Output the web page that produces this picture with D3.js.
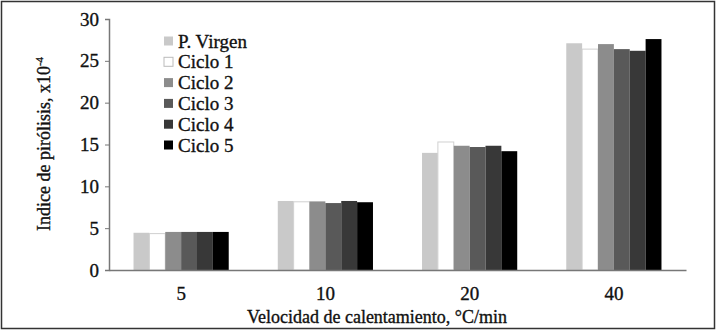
<!DOCTYPE html>
<html lang="es">
<head>
<meta charset="utf-8">
<script src="https://d3js.org/d3.v7.min.js"></script>
<style>
    body { margin: 0; background: #fff; }
    svg text {
        font-family: "Liberation Serif", "Times New Roman", Tinos, "DejaVu Serif", serif !important;
        stroke: #111;
        stroke-width: 0.35px;
    }
</style>
</head>
<body>
<div id="chart"></div>
<script>

    // categories (heating rate, °C/min)
    const categories = ["5", "10", "20", "40"];

    // series names and values (pyrolysis index x10^-4)
    const seriesNames = ["P. Virgen", "Ciclo 1", "Ciclo 2", "Ciclo 3", "Ciclo 4", "Ciclo 5"];
    const pVirgen = [4.45, 8.25, 14.0, 27.1];
    const ciclo1  = [4.35, 8.15, 15.3, 26.4];
    const ciclo2  = [4.55, 8.2, 14.85, 27.0];
    const ciclo3  = [4.55, 8.0, 14.7, 26.4];
    const ciclo4  = [4.55, 8.25, 14.85, 26.2];
    const ciclo5  = [4.55, 8.1, 14.2, 27.6];

    const yTicks = [0, 5, 10, 15, 20, 25, 30];

    const colours = ["#c9c9c9", "#ffffff", "#8c8c8c", "#595959", "#383838", "#000000"];

    const allSeries = [pVirgen, ciclo1, ciclo2, ciclo3, ciclo4, ciclo5];

    const width = 717, height = 333;
    const margin = {top: 19, right: 31, bottom: 63, left: 109};
    const w = width - margin.left - margin.right;
    const h = height - margin.top - margin.bottom;

    const svg = d3.select("#chart").append("svg")
        .attr("width", width)
        .attr("height", height);

    // outer frame
    svg.append("rect")
        .attr("x", 1.5).attr("y", 1.5)
        .attr("width", width - 4).attr("height", height - 6)
        .attr("fill", "none")
        .attr("stroke", "#333")
        .attr("stroke-width", 1.5);

    const g = svg.append("g")
        .attr("transform", "translate(" + margin.left + "," + margin.top + ")");

    const x0 = d3.scaleBand()
        .domain(categories)
        .range([0, w])
        .paddingInner(0.34)
        .paddingOuter(0.17);

    const x1 = d3.scaleBand()
        .domain(seriesNames)
        .range([0, x0.bandwidth()])
        .padding(0);

    const y = d3.scaleLinear()
        .domain([0, 30])
        .range([h, 0]);

    // bars
    const groups = g.selectAll(".grp")
        .data(categories)
        .enter().append("g")
        .attr("class", "grp")
        .attr("transform", function(d) { return "translate(" + x0(d) + ",0)"; });

    groups.selectAll("rect")
        .data(function(d, i) {
            return seriesNames.map(function(s, j) {
                return {name: s, value: allSeries[j][i], k: j};
            });
        })
        .enter().append("rect")
        .attr("x", function(d) { return x1(d.name); })
        .attr("y", function(d) { return y(d.value); })
        .attr("width", x1.bandwidth())
        .attr("height", function(d) { return h - y(d.value); })
        .attr("fill", function(d) { return colours[d.k]; })
        .attr("stroke", function(d) { return d.k == 1 ? "#d0d0d0" : "none"; })
        .attr("stroke-width", 1);

    // y axis
    const yAxis = g.append("g")
        .call(d3.axisLeft(y).tickValues(yTicks).tickSize(4).tickPadding(6));
    yAxis.select(".domain").attr("stroke", "#777").attr("stroke-width", 1.5);
    yAxis.selectAll(".tick line").attr("stroke", "#777");
    yAxis.selectAll("text")
        .attr("fill", "#111")
        .style("font-size", "19px");

    // x axis
    const xAxis = g.append("g")
        .attr("transform", "translate(0," + h + ")")
        .call(d3.axisBottom(x0).tickSize(0).tickPadding(17));
    xAxis.select(".domain").attr("stroke", "#777").attr("stroke-width", 1.5);
    xAxis.selectAll("text")
        .attr("fill", "#111")
        .style("font-size", "19px");

    // axis titles
    svg.append("text")
        .attr("x", 377)
        .attr("y", 323)
        .attr("text-anchor", "middle")
        .style("font-size", "18px")
        .attr("fill", "#111")
        .text("Velocidad de calentamiento, °C/min");

    const yt = svg.append("text")
        .attr("transform", "translate(50,144) rotate(-90)")
        .attr("text-anchor", "middle")
        .style("font-size", "18px")
        .attr("fill", "#111");
    yt.append("tspan").text("Indice de pirólisis, x10");
    yt.append("tspan").attr("dy", -7).style("font-size", "11px").text("-4");

    // legend
    const legend = svg.append("g")
        .attr("transform", "translate(164,41)");
    const li = legend.selectAll(".li")
        .data(seriesNames)
        .enter().append("g")
        .attr("transform", function(d, i) { return "translate(0," + (i * 20.8) + ")"; });
    li.append("rect")
        .attr("x", 0).attr("y", -4.5)
        .attr("width", 9).attr("height", 9)
        .attr("fill", function(d, i) { return colours[i]; })
        .attr("stroke", function(d, i) { return i == 1 ? "#bbb" : "none"; });
    li.append("text")
        .attr("x", 14)
        .attr("y", 6.5)
        .style("font-size", "19px")
        .attr("fill", "#111")
        .text(function(d) { return d; });

</script>
</body>
</html>
